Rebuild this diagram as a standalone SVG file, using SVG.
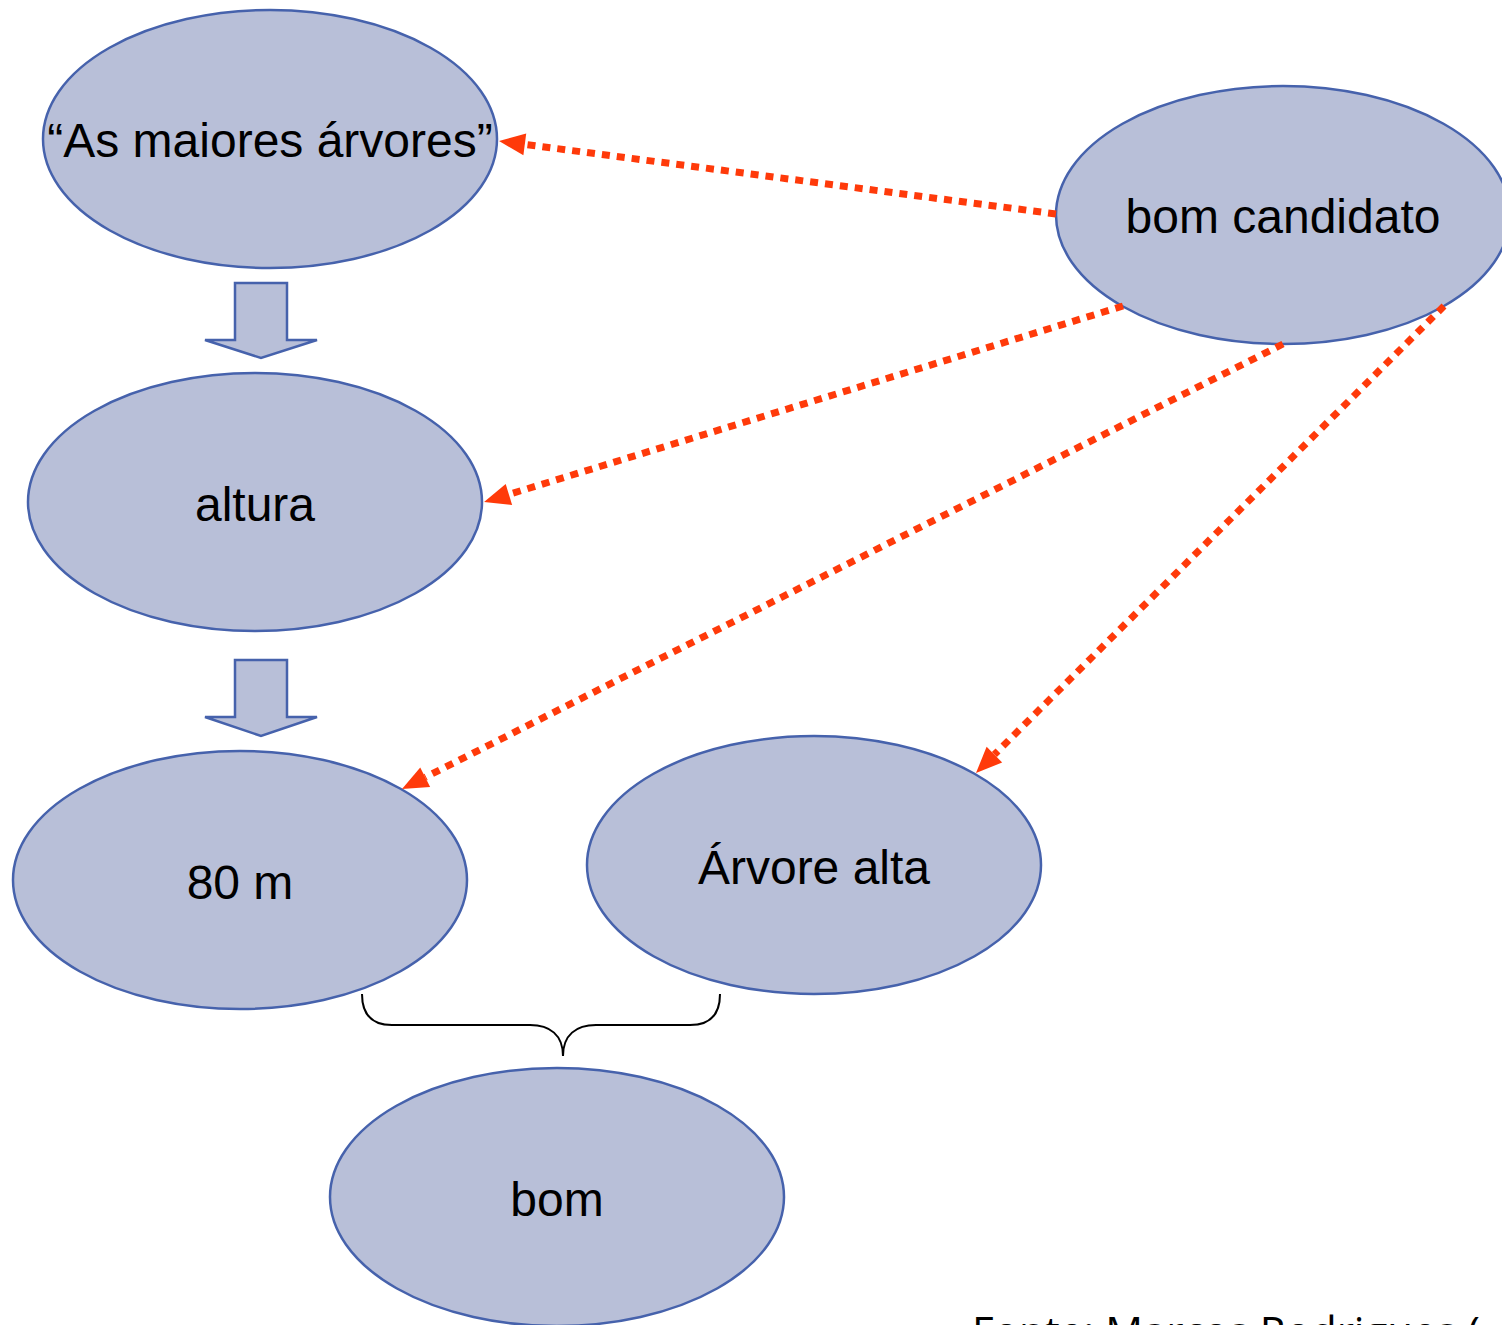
<svg xmlns="http://www.w3.org/2000/svg" width="1502" height="1325" viewBox="0 0 1502 1325">
<defs>
<style>
.node{fill:#B8BFD8;stroke:#4662AC;stroke-width:2.5}
.lbl{font-family:"Liberation Sans",Arial,sans-serif;font-size:48px;fill:#000;text-anchor:middle}
.dot{fill:none;stroke:#FF3A0A;stroke-width:7;stroke-dasharray:8 7;marker-end:url(#ah)}
.blk{fill:#B8BFD8;stroke:#4662AC;stroke-width:2.5;stroke-linejoin:miter}
.brace{fill:none;stroke:#000;stroke-width:2}
</style>
<marker id="ah" markerUnits="userSpaceOnUse" markerWidth="30" markerHeight="26" refX="0" refY="11" orient="auto" overflow="visible">
<path d="M0,0 L26,11 L0,22 z" fill="#FF3A0A"/>
</marker>
</defs>
<rect width="1502" height="1325" fill="#fff"/>
<g id="node-maiores">
<ellipse class="node" cx="270" cy="139" rx="227" ry="129"/>
<text class="lbl" x="270" y="157">“As maiores árvores”</text>
</g>
<g id="node-bomcandidato">
<ellipse class="node" cx="1283" cy="215" rx="227" ry="129"/>
<text class="lbl" x="1283" y="233">bom candidato</text>
</g>
<g id="node-altura">
<ellipse class="node" cx="255" cy="502" rx="227" ry="129"/>
<text class="lbl" x="255" y="521">altura</text>
</g>
<g id="node-80m">
<ellipse class="node" cx="240" cy="880" rx="227" ry="129"/>
<text class="lbl" x="240" y="899">80 m</text>
</g>
<g id="node-arvorealta">
<ellipse class="node" cx="814" cy="865" rx="227" ry="129"/>
<text class="lbl" x="814" y="884">Árvore alta</text>
</g>
<g id="node-bom">
<ellipse class="node" cx="557" cy="1197" rx="227" ry="129"/>
<text class="lbl" x="557" y="1216">bom</text>
</g>
<g id="connectors">
<path class="blk" d="M235,283 L287,283 L287,340 L317,340 L261,358 L205,340 L235,340 Z"/>
<path class="blk" d="M235,660 L287,660 L287,717 L317,717 L261,736 L205,717 L235,717 Z"/>
<path class="dot" d="M1056,214 L524.8,144.4"/>
<path class="dot" d="M1123,306 L508.9,494.4"/>
<path class="dot" d="M1283,344 L425.2,777.3"/>
<path class="dot" d="M1444,306 L994.4,754.6"/>
<path class="brace" d="M362,994 C362,1015 372,1025 392,1025 L530,1025 C550,1025 563,1035 563,1056 C563,1035 576,1025 596,1025 L690,1025 C710,1025 720,1015 720,994"/>
</g>
<text x="972" y="1347" font-family="'Open Sans','Liberation Sans',sans-serif" font-size="42" fill="#000">Fonte: Marcos Rodrigues (</text>
</svg>
